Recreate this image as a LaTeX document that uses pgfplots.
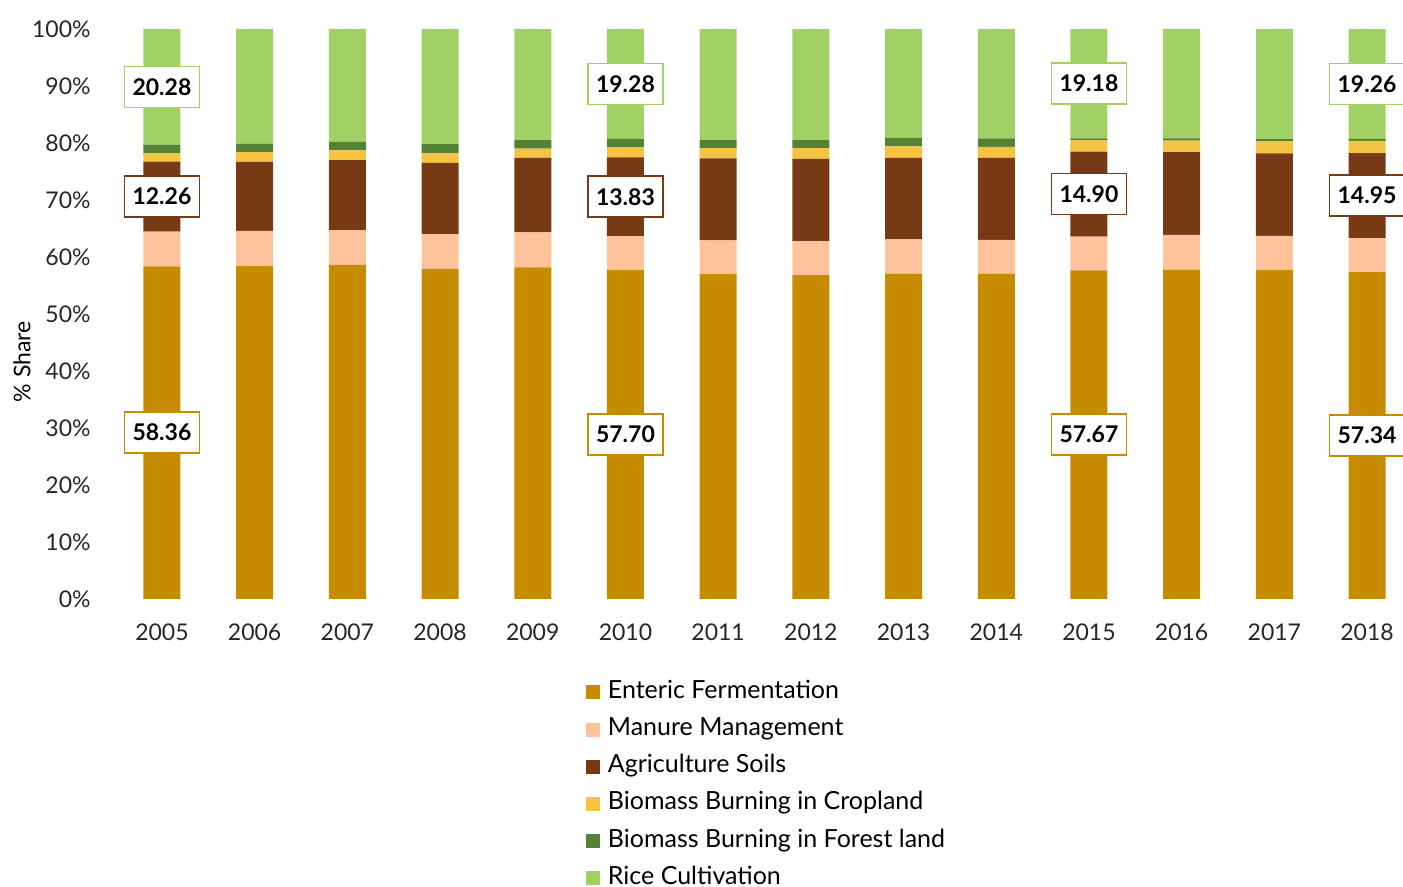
\documentclass[border=0pt]{standalone}
\usepackage{pgfplots}
\pgfplotsset{compat=1.18}
\usepackage{pgfplotstable}
\usepackage{fontspec}
\setmainfont{Lato}

\definecolor{enteric}{HTML}{C78B00}
\definecolor{manure}{HTML}{FFC39B}
\definecolor{soils}{HTML}{783A14}
\definecolor{crop}{HTML}{F5C242}
\definecolor{forest}{HTML}{548235}
\definecolor{rice}{HTML}{A1D165}

% shares in %, one row per year (0 = 2005)
\pgfplotstableread{
x ent man ag crop forest rice
0 58.36 6.10 12.26 1.50 1.50 20.28
1 58.40 6.20 12.10 1.70 1.50 20.10
2 58.60 6.10 12.30 1.70 1.50 19.80
3 57.90 6.10 12.50 1.70 1.60 20.20
4 58.20 6.10 13.10 1.60 1.50 19.50
5 57.70 5.95 13.83 1.78 1.46 19.28
6 57.00 5.90 14.40 1.80 1.40 19.50
7 56.80 6.00 14.40 1.90 1.40 19.50
8 57.10 6.00 14.30 2.00 1.50 19.10
9 57.10 5.90 14.40 1.90 1.50 19.20
10 57.67 5.90 14.90 2.00 0.35 19.18
11 57.80 6.10 14.50 2.00 0.40 19.20
12 57.70 6.00 14.50 2.10 0.40 19.30
13 57.34 5.95 14.95 2.15 0.35 19.26
}\shares

\pgfplotsset{
  base/.style={
    scale only axis, width=643.8pt, height=285pt,
    xmin=-0.5, xmax=13.39, ymin=0, ymax=100,
    axis line style={draw=none}, major tick length=0pt,
  },
  lbl/.style={draw=none, mark=none, nodes near coords, point meta=explicit symbolic,
    every node near coord/.append style={anchor=center, fill=white, draw=#1,
      line width=0.75pt, inner xsep=4pt, inner ysep=6pt, font=\bfseries, text=black}},
}

\begin{document}
\fontsize{11.5}{13.8}\selectfont
\begin{tikzpicture}
\useasboundingbox (-57.8pt,-144pt) rectangle (643.7pt,299.5pt);
\begin{axis}[base,
  ybar stacked, bar width=18.5pt,
  xtick={0,...,13},
  xticklabels={2005,2006,2007,2008,2009,2010,2011,2012,2013,2014,2015,2016,2017,2018},
  xticklabel style={yshift=-8.5pt, text=black!85},
  ytick={0,10,...,100},
  yticklabels={0\%,10\%,20\%,30\%,40\%,50\%,60\%,70\%,80\%,90\%,100\%},
  yticklabel style={xshift=-8.5pt, text=black!85},
  ylabel={\% Share},
  ylabel style={at={(axis description cs:-0.0727,0.416)}, anchor=center, rotate=0},
  legend style={at={(axis description cs:0.3607,-0.1298)}, anchor=north west, draw=none,
    fill=none, row sep=3.6pt, font=\fontsize{12.5}{15}\selectfont,
    nodes={inner sep=2pt, text height=8.5pt, text depth=2.5pt}},
  legend cell align=left,
  legend image code/.code={\fill[#1] (0pt,-3.5pt) rectangle (7pt,3.5pt);
    \path (8.75pt,0pt);},
]
\addplot[fill=enteric, draw=none] table[x=x, y=ent] {\shares};
\addplot[fill=manure, draw=none] table[x=x, y=man] {\shares};
\addplot[fill=soils, draw=none] table[x=x, y=ag] {\shares};
\addplot[fill=crop, draw=none] table[x=x, y=crop] {\shares};
\addplot[fill=forest, draw=none] table[x=x, y=forest] {\shares};
\addplot[fill=rice, draw=none] table[x=x, y=rice] {\shares};
\legend{Enteric Fermentation, Manure Management, Agriculture Soils,
  Biomass Burning in Cropland, Biomass Burning in Forest land, Rice Cultivation}
\end{axis}
% data labels, placed at the middle of their segments
\begin{axis}[base, hide axis]
\addplot[lbl=enteric] coordinates {(0,29.18)[58.36] (5,28.85)[57.70] (10,28.84)[57.67] (13,28.67)[57.34]};
\addplot[lbl=soils] coordinates {(0,70.59)[12.26] (5,70.57)[13.83] (10,71.02)[14.90] (13,70.77)[14.95]};
\addplot[lbl=rice] coordinates {(0,89.86)[20.28] (5,90.36)[19.28] (10,90.41)[19.18] (13,90.37)[19.26]};
\end{axis}
\end{tikzpicture}
\end{document}
